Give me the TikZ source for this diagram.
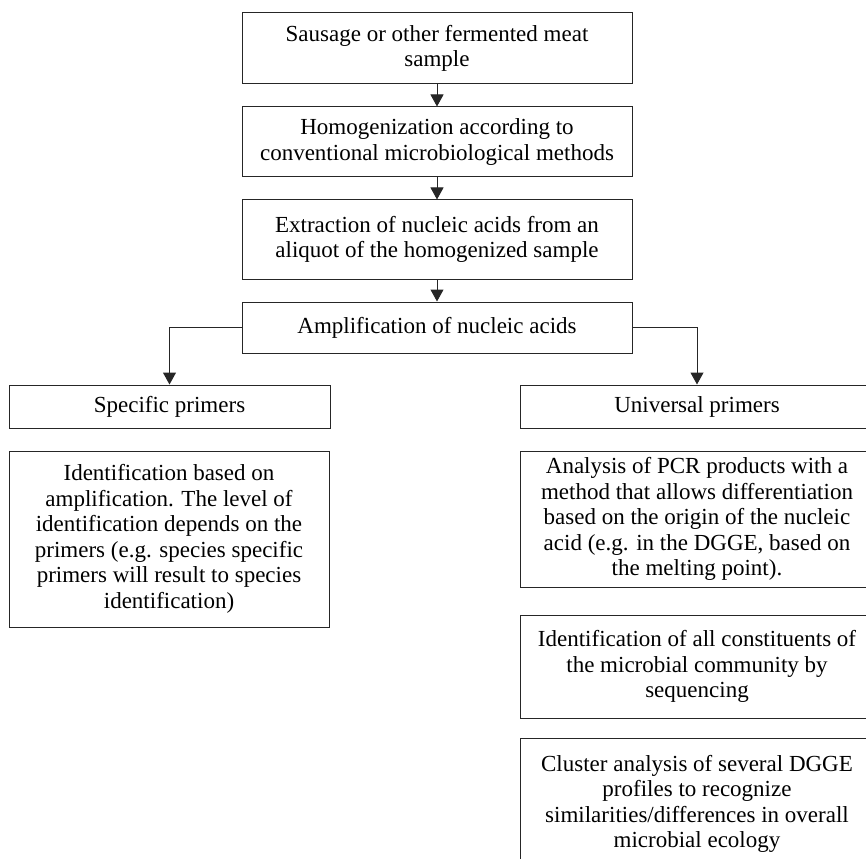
\documentclass[tikz,border=0pt]{standalone}
\usepackage{fontspec}
\setmainfont{Liberation Serif}
\usetikzlibrary{arrows.meta}
\begin{document}
\begin{tikzpicture}[x=1pt,y=-1pt,
  box/.style={draw=black!85, line width=1pt, inner sep=0pt, align=center,
    font=\fontsize{23}{25.5}\selectfont},
  conn/.style={draw=black!85, line width=1pt, -{Triangle[length=12pt,width=13pt]}}]
\useasboundingbox (0,0) rectangle (866,858);
\clip (0,0) rectangle (866,858);
\fill[white] (0,0) rectangle (866,858);
\node[box, minimum width=390pt, minimum height=71pt] (n1) at (437,48.5) {Sausage or other fermented meat\\sample};
\node[box, minimum width=390pt, minimum height=70pt] (n2) at (437,142) {Homogenization according to\\conventional microbiological methods};
\node[box, minimum width=390pt, minimum height=79pt] (n3) at (437,239.5) {Extraction of nucleic acids from an\\aliquot of the homogenized sample};
\node[box, minimum width=390pt, minimum height=51pt] (n4) at (437,327.5) {Amplification of nucleic acids};
\node[box, minimum width=321pt, minimum height=43pt] (sp) at (169.5,406.5) {Specific primers};
\node[box, minimum width=354pt, minimum height=43pt] (up) at (697,406.5) {Universal primers};
\node[box, minimum width=320pt, minimum height=176pt] (idl) at (169,539) {Identification based on\\amplification. The level of\\identification depends on the\\primers (e.g. species specific\\primers will result to species\\identification)};
\node[box, minimum width=354pt, minimum height=136pt] (an) at (697,519) {Analysis of PCR products with a\\method that allows differentiation\\based on the origin of the nucleic\\acid (e.g. in the DGGE, based on\\the melting point).};
\node[box, minimum width=354pt, minimum height=103pt] (ids) at (697,666.5) {Identification of all constituents of\\the microbial community by\\sequencing};
\node[box, minimum width=354pt, minimum height=132pt] (cl) at (697,804) {Cluster analysis of several DGGE\\profiles to recognize\\similarities/differences in overall\\microbial ecology};
\draw[conn] (n1) -- (n2);
\draw[conn] (n2) -- (n3);
\draw[conn] (n3) -- (n4);
\draw[conn] (n4.west) -| (sp.north);
\draw[conn] (n4.east) -| (up.north);
\end{tikzpicture}
\end{document}
